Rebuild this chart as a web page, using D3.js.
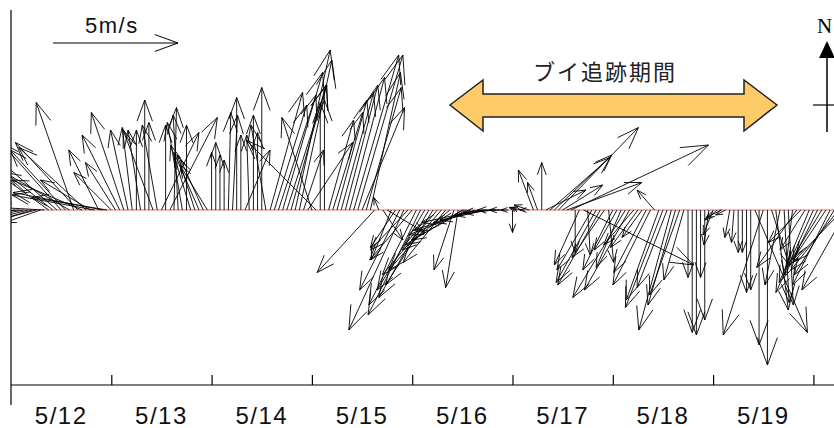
<!DOCTYPE html>
<html>
<head>
<meta charset="utf-8" />
<title>Wind vectors</title>
<script src="https://d3js.org/d3.v7.min.js"></script>
<style>
  body { margin: 0; background: #fff; }
  svg { display: block; }
</style>
</head>
<body>
<svg width="834" height="428"></svg>
<script>
    // hourly wind components (m/s), starting 5/12 00:00
    var u = [
        -1.2, -1.4, -1.5, -1.6, -1.5, -1.6, -1.5, -1.4, -1.8, -2.5, -2.8, -3.0,
        -2.4, -2.2, -2.6, -1.5, -2.5, -2.8, -2.7, -2.0, -3.3, -1.2, -3.6, -3.0,
        -1.5, -1.2, -1.5, -1.3, -0.7, -0.4, 0.0, -0.5, 0.0, 0.0, -1.2, -0.6,
        1.5, 0.0, 1.9, 0.1, -0.2, -0.6, 0.0, -0.8, -0.7, -1.0, -0.9, -1.1,
        0.0, 0.0, 0.0, 0.0, 0.1, 0.2, 0.0, 0.0, 1.0, -0.1, 0.0, 0.0,
        0.0, -0.6, 1.3, 1.3, 1.5, 1.6, 1.6, 1.4, 1.4, 1.3, 0.8, 1.8,
        -1.2, -2.8, 0.0, 0.0, 1.0, 1.2, 1.2, 1.3, 1.3, 1.4, 1.8, 1.8,
        1.7, 1.4, 1.2, -2.3, -0.2, 0.8, 1.5, -0.8, -1.0, -1.6, -2.2, -1.5,
        -1.7, -1.9, -2.1, -1.9, -2.0, -1.9, -2.2, -2.1, -1.7, -1.9, -0.8, -0.5,
        -2.3, -2.2, -2.5, -2.4, -2.3, -2.0, -1.9, -1.5, -1.3, -0.9, -0.6, -0.3,
        0.0, -0.3, -0.4, -0.2, -0.6, -0.6, -0.4, 0.0, 1.6, 2.4, 2.3, 3.2,
        1.6, 3.0, 5.5, 0.0, -1.0, 4.4, 0.1, -1.4, -1.6, -1.7, -1.3, 0.2,
        -1.2, -0.9, -1.0, -2.1, -1.8, -1.2, -1.1, -0.8, -1.3, -1.5, -0.7, -1.3,
        -1.5, -1.2, -1.3, -1.1, -1.2, -0.8, 0.0, 0.0, 0.0, 0.0, 0.0, -0.2,
        -0.4, -0.5, -0.6, -0.4, -0.2, -0.1, 0.0, 0.0, 0.0, 0.0, 2.1, 0.0,
        -1.6, 0.0, 0.7, 0.5, -0.6, 0.2, 0.2, -0.3, -1.6, -1.3, -1.0, -1.2,
        -1.5, -1.0, -1.4, -1.2, -1.5, -1.6, -1.9, -2.0, -1.8
    ];
    var v = [
        -0.1, -0.2, -0.1, -0.3, -0.4, -0.5, -0.4, -0.5, 0.1, 1.8, 2.2, 2.6,
        2.7, 2.4, 1.5, 4.3, 2.7, 1.2, 2.5, 1.2, 0.6, 2.4, 0.7, 0.5,
        1.5, 1.9, 3.0, 3.9, 3.2, 3.3, 3.2, 3.2, 4.4, 3.5, 3.2, 3.4,
        3.1, 3.4, 3.7, 4.1, 3.8, 3.5, 3.4, 2.6, 2.2, 2.3, 2.0, 1.8,
        2.3, 2.7, 2.2, 2.0, 3.9, 3.8, 4.5, 3.0, 2.4, 3.0, 3.8, 3.1,
        4.9, 3.4, 4.7, 4.2, 4.6, 5.5, 5.0, 5.0, 6.4, 6.0, 2.4, 2.7,
        3.7, 2.8, 4.3, 4.4, 3.6, 3.9, 4.4, 4.7, 5.0, 5.3, 6.2, 6.2,
        4.1, 4.9, 5.5, -2.5, 0.5, -1.2, -0.9, -2.0, -1.5, -3.2, -4.8, -1.6,
        -2.0, -3.8, -4.2, -3.2, -3.5, -3.0, -2.6, -2.4, -2.1, -1.6, -2.4, -3.1,
        -1.4, -1.2, -1.0, -0.8, -0.5, -0.5, -0.4, -0.2, -0.1, 0.0, 0.0, 0.0,
        -0.9, 0.1, 0.1, 0.0, 0.2, 1.6, 1.1, 1.9, 0.8, 2.1, 2.2, 3.3,
        1.0, 1.1, 2.6, -1.7, -2.2, -2.2, -1.8, -2.4, -2.9, -3.0, -1.9, -2.1,
        -2.4, -1.6, -2.3, -3.5, -3.2, -1.4, -1.5, -1.1, -2.5, -3.0, 0.8, -3.6,
        -3.9, -3.1, -4.8, -3.8, -3.4, -2.8, -2.7, -4.9, -5.0, -2.7, -4.4, -1.4,
        -1.0, -0.4, -0.3, -0.2, -1.1, -1.3, -1.7, -1.7, -3.3, -3.2, -4.9, -5.4,
        -5.0, -6.2, -2.2, -4.0, -3.0, -3.7, -3.8, -2.6, -2.3, -1.3, -1.6, -2.9,
        -3.3, -2.0, -2.3, -1.8, -3.0, -2.6, -2.4, -2.1, -3.2
    ];
    var dayLabels = ["5/12", "5/13", "5/14", "5/15", "5/16", "5/17", "5/18", "5/19"];
    var refSpeed = 5; // m/s, reference arrow

    var svg = d3.select("svg");
    var W = 834, H = 428;
    var left = 11, baseY = 210, axisY = 385;

    var start = new Date(2000, 4, 12);
    var x = d3.scaleTime()
        .domain([start, d3.timeDay.offset(start, 8)])
        .range([left, left + 8 * 100.3]);
    // m/s -> pixels (same scale both ways)
    var k = d3.scaleLinear().domain([0, refSpeed]).range([0, 125]);

    function arrowPath(x0, y0, x1, y1) {
        var dx = x1 - x0, dy = y1 - y0;
        var L = Math.sqrt(dx * dx + dy * dy);
        if (L < 0.5) return "M" + x0 + "," + y0 + "L" + x1 + "," + y1;
        var h = 6 + 0.15 * L, a = 20 * Math.PI / 180;
        var ang = Math.atan2(dy, dx);
        var hx1 = x1 - h * Math.cos(ang - a), hy1 = y1 - h * Math.sin(ang - a);
        var hx2 = x1 - h * Math.cos(ang + a), hy2 = y1 - h * Math.sin(ang + a);
        return "M" + x0 + "," + y0 + "L" + x1 + "," + y1 +
            "M" + hx1 + "," + hy1 + "L" + x1 + "," + y1 + "L" + hx2 + "," + hy2;
    }

    svg.append("clipPath").attr("id", "plot")
        .append("rect").attr("x", left).attr("y", 0).attr("width", W - left).attr("height", H);

    // axes
    svg.append("line")
        .attr("x1", left).attr("x2", left).attr("y1", 10).attr("y2", 405)
        .attr("stroke", "#000").attr("stroke-width", 1.2);
    svg.append("line")
        .attr("x1", left).attr("x2", W).attr("y1", axisY).attr("y2", axisY)
        .attr("stroke", "#000").attr("stroke-width", 1.2);

    var ax = svg.append("g")
        .attr("transform", "translate(0," + axisY + ")")
        .call(d3.axisTop(x).ticks(d3.timeDay.every(1)).tickSizeInner(10).tickSizeOuter(0).tickFormat(""));
    ax.select(".domain").remove();
    ax.selectAll(".tick line").attr("stroke", "#000").attr("stroke-width", 1.2);
    ax.selectAll(".tick").filter(function (d) { return +d === +start; }).remove();

    // day labels at noon
    svg.append("g").selectAll("text")
        .data(dayLabels)
        .enter().append("text")
        .attr("x", function (d, i) { return x(d3.timeHour.offset(start, i * 24 + 12)); })
        .attr("y", 424)
        .attr("text-anchor", "middle")
        .attr("font-family", "'Liberation Sans', Arial, sans-serif")
        .attr("font-size", 24)
        .attr("letter-spacing", 1.5)
        .attr("fill", "#111")
        .text(function (d) { return d; });

    // zero line
    svg.append("line")
        .attr("x1", left).attr("x2", W).attr("y1", baseY).attr("y2", baseY)
        .attr("stroke", "#e8646a").attr("stroke-width", 1.2);

    // wind sticks
    var data = u.map(function (d, i) {
        return { t: d3.timeHour.offset(start, i), u: d, v: v[i] };
    });
    svg.append("g").attr("clip-path", "url(#plot)")
        .selectAll("path")
        .data(data)
        .enter().append("path")
        .attr("d", function (d) {
            var x0 = x(d.t);
            return arrowPath(x0, baseY, x0 + k(d.u), baseY - k(d.v));
        })
        .attr("fill", "none")
        .attr("stroke", "#000")
        .attr("stroke-width", 0.9);

    // reference arrow
    svg.append("path")
        .attr("d", arrowPath(53, 43, 53 + k(refSpeed), 43))
        .attr("fill", "none").attr("stroke", "#000").attr("stroke-width", 1);
    svg.append("text")
        .attr("x", 85).attr("y", 33)
        .attr("font-family", "'Liberation Sans', Arial, sans-serif")
        .attr("font-size", 22)
        .attr("letter-spacing", 1.5)
        .attr("fill", "#111")
        .text("5m/s");

    // buoy tracking period
    svg.append("polygon")
        .attr("points", "450,105 483,80 483,94 744,94 744,80 777,105 744,131 744,117 483,117 483,131")
        .attr("fill", "#fdcb68")
        .attr("stroke", "#222")
        .attr("stroke-width", 1.5)
        .attr("stroke-linejoin", "miter");
    svg.append("text")
        .attr("x", 605).attr("y", 80)
        .attr("text-anchor", "middle")
        .attr("font-family", "'Noto Sans CJK JP', sans-serif")
        .attr("font-size", 22)
        .attr("letter-spacing", 2)
        .attr("fill", "#222")
        .text("ブイ追跡期間");

    // north arrow
    svg.append("line")
        .attr("x1", 827).attr("x2", 827).attr("y1", 55).attr("y2", 132)
        .attr("stroke", "#000").attr("stroke-width", 1.5);
    svg.append("line")
        .attr("x1", 813).attr("x2", 841).attr("y1", 105).attr("y2", 105)
        .attr("stroke", "#000").attr("stroke-width", 1.2);
    svg.append("polygon")
        .attr("points", "827,41 819,58 835,58")
        .attr("fill", "#000");
    svg.append("text")
        .attr("x", 817).attr("y", 33)
        .attr("font-family", "'Liberation Serif', 'Times New Roman', serif")
        .attr("font-size", 21)
        .attr("fill", "#000")
        .text("N");
</script>
</body>
</html>
